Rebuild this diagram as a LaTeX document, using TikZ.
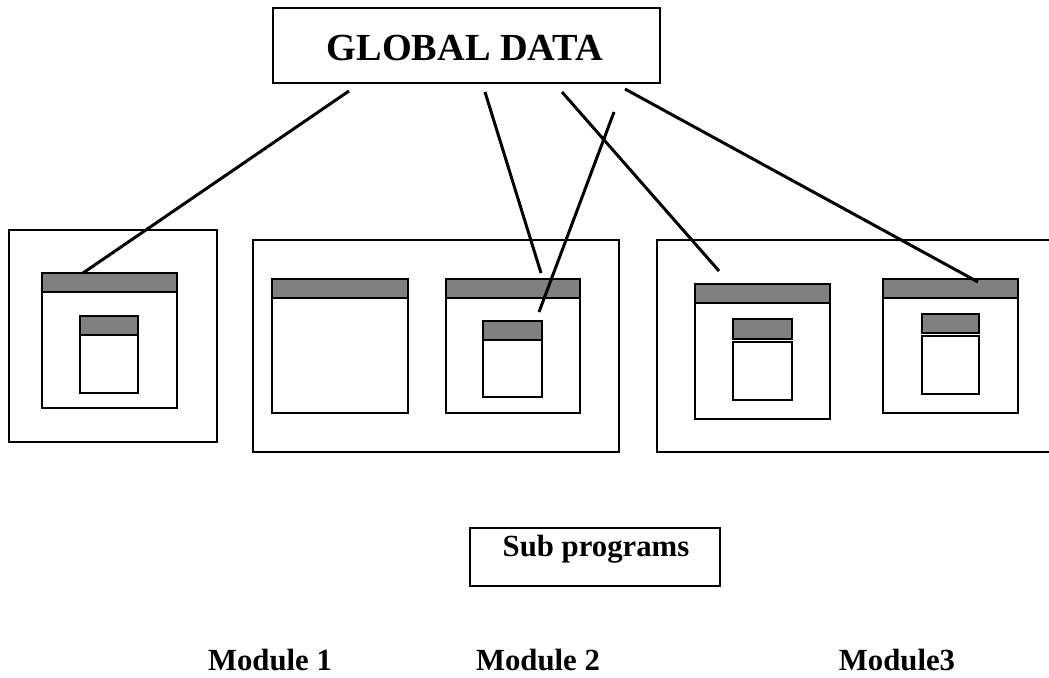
\documentclass[tikz,border=0pt]{standalone}
\usepackage{fontspec}
\setmainfont{Liberation Serif}
\usetikzlibrary{fit}
\definecolor{barGray}{HTML}{808080}
\tikzset{
  px/.style={x=0.02cm, y=-0.02cm},
  frame/.style={draw, line width=1.1pt, inner sep=0pt, outer sep=0pt, fill=white},
  bar/.style={draw, line width=1.1pt, inner sep=0pt, outer sep=0pt, fill=barGray},
  link/.style={line width=1.7pt},
  caption/.style={font=\fontsize{17.5}{21}\selectfont\bfseries, anchor=base, inner sep=0pt},
  headline/.style={font=\fontsize{21.8}{26}\selectfont\bfseries, anchor=base, inner sep=0pt},
}
\begin{document}
\begin{tikzpicture}[px]
\useasboundingbox (0,0) rectangle (1049,678);
\clip (0,0) rectangle (1049,678);

% global data store
\node[frame, fit={(273,8) (660,83)}] (global) {};
\node[headline] (globaltext) at (465,61) {GLOBAL DATA};

% Module 1
\node[frame, fit={(9,230) (217,442)}] (m1) {};
\node[frame, fit={(42,273) (177,408)}] (m1a) {};
\node[bar, fit={(42,273) (177,292)}] (m1abar) {};
\node[frame, fit={(80,316) (138,393)}] (m1s) {};
\node[bar, fit={(80,316) (138,335)}] (m1sbar) {};

% Module 2
\node[frame, fit={(253,240) (619,452)}] (m2) {};
\node[frame, fit={(272,279) (408,413)}] (m2a) {};
\node[bar, fit={(272,279) (408,298)}] (m2abar) {};
\node[frame, fit={(446,279) (580,413)}] (m2b) {};
\node[bar, fit={(446,279) (580,298)}] (m2bbar) {};
\node[frame, fit={(483,321) (542,397)}] (m2s) {};
\node[bar, fit={(483,321) (542,340)}] (m2sbar) {};

% Module 3 (its frame runs on past the right edge)
\node[frame, fit={(657,240) (1070,452)}] (m3) {};
\node[frame, fit={(695,284) (830,419)}] (m3a) {};
\node[bar, fit={(695,284) (830,303)}] (m3abar) {};
\node[bar, fit={(733,319) (792,339)}] (m3sbar) {};
\node[frame, fit={(733,342) (792,400)}] (m3s) {};
\node[frame, fit={(883,279) (1018,413)}] (m3b) {};
\node[bar, fit={(883,279) (1018,298)}] (m3bbar) {};
\node[bar, fit={(922,314) (979,333)}] (m3tbar) {};
\node[frame, fit={(922,336) (979,394)}] (m3t) {};

% legend box
\node[frame, fit={(470,528) (720,586)}] (sub) {};
\node[caption] (subtext) at (596,557) {Sub programs};

% module captions
\node[caption] (mod1) at (270,671) {Module 1};
\node[caption] (mod2) at (538,671) {Module 2};
\node[caption] (mod3) at (897,671) {Module3};

% connectors from the global data to the sub programs
\coordinate (c1a) at (349,91);  \coordinate (c1b) at (83,273);
\coordinate (c2a) at (485,92);  \coordinate (c2b) at (541,273);
\coordinate (c3a) at (614,112); \coordinate (c3b) at (539,312);
\coordinate (c4a) at (562,92);  \coordinate (c4b) at (719,271);
\coordinate (c5a) at (625,89);  \coordinate (c5b) at (978,282);
\draw[link] (c1a) -- (c1b);
\draw[link] (c2a) -- (c2b);
\draw[link] (c3a) -- (c3b);
\draw[link] (c4a) -- (c4b);
\draw[link] (c5a) -- (c5b);
\end{tikzpicture}
\end{document}
